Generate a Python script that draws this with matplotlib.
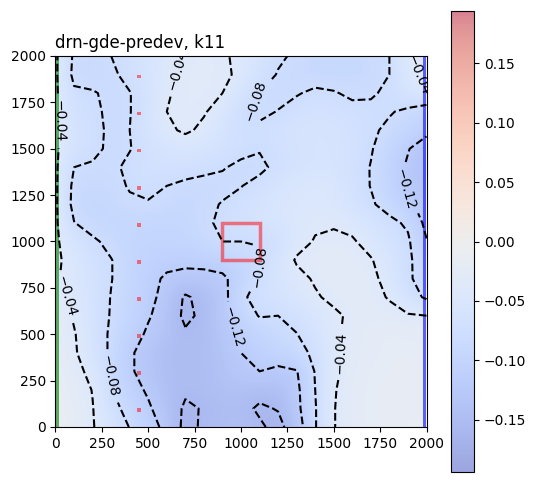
import numpy as np
import matplotlib
matplotlib.use("Agg")
import matplotlib.pyplot as plt
from matplotlib.patches import Rectangle

# grid coordinates (m)
x_coords = np.arange(0, 2001, 100)
y_coords = np.arange(0, 2001, 100)

# head-change values, rows listed from y=2000 (top) down to y=0
head_rows = [
    [-0.035,-0.085,-0.09,-0.08,-0.07,-0.06,-0.05,-0.038,-0.034,-0.037,-0.045,-0.06,-0.075,-0.085,-0.09,-0.092,-0.09,-0.088,-0.08,-0.045,-0.03],
    [-0.035,-0.088,-0.09,-0.085,-0.072,-0.06,-0.045,-0.035,-0.032,-0.035,-0.045,-0.065,-0.082,-0.088,-0.092,-0.094,-0.092,-0.09,-0.08,-0.05,-0.03],
    [-0.035,-0.075,-0.078,-0.085,-0.081,-0.065,-0.042,-0.034,-0.033,-0.04,-0.06,-0.08,-0.088,-0.082,-0.075,-0.078,-0.085,-0.083,-0.075,-0.06,-0.045],
    [-0.035,-0.07,-0.075,-0.085,-0.081,-0.065,-0.04,-0.033,-0.038,-0.05,-0.075,-0.086,-0.079,-0.07,-0.065,-0.066,-0.072,-0.074,-0.078,-0.085,-0.1],
    [-0.035,-0.065,-0.072,-0.085,-0.08,-0.06,-0.045,-0.036,-0.045,-0.06,-0.075,-0.074,-0.068,-0.062,-0.06,-0.062,-0.068,-0.076,-0.085,-0.095,-0.11],
    [-0.035,-0.065,-0.07,-0.088,-0.081,-0.07,-0.06,-0.055,-0.058,-0.065,-0.072,-0.078,-0.07,-0.064,-0.06,-0.06,-0.065,-0.078,-0.095,-0.118,-0.14],
    [-0.035,-0.08,-0.085,-0.085,-0.075,-0.068,-0.066,-0.068,-0.072,-0.078,-0.086,-0.087,-0.072,-0.065,-0.06,-0.06,-0.068,-0.081,-0.1,-0.125,-0.145],
    [-0.035,-0.088,-0.09,-0.088,-0.078,-0.074,-0.08,-0.086,-0.09,-0.088,-0.081,-0.07,-0.06,-0.052,-0.048,-0.052,-0.065,-0.081,-0.1,-0.125,-0.14],
    [-0.035,-0.09,-0.095,-0.092,-0.084,-0.082,-0.088,-0.092,-0.088,-0.078,-0.07,-0.062,-0.055,-0.05,-0.048,-0.05,-0.062,-0.076,-0.092,-0.115,-0.13],
    [-0.035,-0.079,-0.092,-0.095,-0.095,-0.095,-0.097,-0.095,-0.085,-0.075,-0.068,-0.062,-0.055,-0.048,-0.044,-0.043,-0.048,-0.06,-0.072,-0.085,-0.13],
    [-0.035,-0.06,-0.075,-0.088,-0.097,-0.1,-0.1,-0.098,-0.09,-0.08,-0.08,-0.079,-0.074,-0.05,-0.038,-0.034,-0.037,-0.05,-0.065,-0.075,-0.118],
    [-0.035,-0.05,-0.068,-0.079,-0.095,-0.105,-0.11,-0.112,-0.11,-0.105,-0.095,-0.083,-0.06,-0.037,-0.03,-0.028,-0.03,-0.038,-0.055,-0.074,-0.1],
    [-0.037,-0.05,-0.065,-0.079,-0.095,-0.11,-0.125,-0.13,-0.13,-0.126,-0.105,-0.075,-0.06,-0.048,-0.037,-0.03,-0.028,-0.033,-0.05,-0.075,-0.095],
    [-0.03,-0.048,-0.063,-0.081,-0.095,-0.112,-0.13,-0.165,-0.148,-0.135,-0.085,-0.07,-0.062,-0.053,-0.043,-0.034,-0.028,-0.032,-0.042,-0.065,-0.085],
    [-0.022,-0.043,-0.062,-0.082,-0.097,-0.117,-0.135,-0.168,-0.152,-0.128,-0.1,-0.078,-0.08,-0.068,-0.055,-0.045,-0.035,-0.03,-0.032,-0.037,-0.04],
    [-0.02,-0.038,-0.06,-0.085,-0.105,-0.125,-0.14,-0.155,-0.15,-0.135,-0.115,-0.1,-0.09,-0.081,-0.062,-0.045,-0.032,-0.025,-0.022,-0.022,-0.025],
    [-0.018,-0.036,-0.06,-0.085,-0.115,-0.135,-0.148,-0.155,-0.15,-0.14,-0.12,-0.11,-0.1,-0.09,-0.074,-0.045,-0.032,-0.025,-0.02,-0.02,-0.022],
    [-0.015,-0.032,-0.047,-0.085,-0.115,-0.135,-0.148,-0.152,-0.15,-0.14,-0.13,-0.12,-0.128,-0.122,-0.078,-0.045,-0.03,-0.022,-0.02,-0.018,-0.02],
    [-0.012,-0.025,-0.041,-0.078,-0.105,-0.125,-0.145,-0.155,-0.15,-0.145,-0.142,-0.148,-0.145,-0.128,-0.08,-0.042,-0.028,-0.02,-0.018,-0.017,-0.02],
    [-0.01,-0.022,-0.039,-0.065,-0.095,-0.115,-0.14,-0.165,-0.158,-0.15,-0.15,-0.165,-0.158,-0.13,-0.082,-0.041,-0.028,-0.02,-0.018,-0.017,-0.018],
    [-0.01,-0.02,-0.038,-0.06,-0.081,-0.105,-0.13,-0.17,-0.155,-0.148,-0.145,-0.155,-0.17,-0.14,-0.082,-0.041,-0.028,-0.02,-0.018,-0.016,-0.016],
]
contour_levels = [-0.16, -0.12, -0.08, -0.04]

# approximate places where the contour labels sit
label_spots = [(640, 1930), (1075, 1760), (1935, 1880), (1880, 1280),
               (15, 1650), (45, 700), (280, 270), (945, 530),
               (1095, 870), (1540, 400)]

# boundary / feature locations
drain_x = [0, 20]          # left boundary column
chd_x = [1980, 2000]       # right boundary column
well_x = [450] * 10
well_y = [90, 290, 490, 690, 890, 1090, 1290, 1490, 1690, 1890]
box_x = [900, 1100]
box_y = [900, 1100]
title = "drn-gde-predev, k11"

Z = np.flipud(np.array(head_rows))

fig = plt.figure(figsize=(5.35, 4.82), dpi=100)
ax = fig.add_axes([55/535, 55/482, 372/535, 371/482])
cax = fig.add_axes([451/535, 10/482, 23/535, 461/482])

dx = (x_coords[1] - x_coords[0]) / 2
dy = (y_coords[1] - y_coords[0]) / 2
im = ax.imshow(Z, origin="lower", cmap="coolwarm", alpha=0.5,
               vmin=-0.194, vmax=0.194, interpolation="bicubic",
               extent=[x_coords[0]-dx, x_coords[-1]+dx, y_coords[0]-dy, y_coords[-1]+dy])
cs = ax.contour(x_coords, y_coords, Z, levels=contour_levels, colors="k", linewidths=1.5)
ax.clabel(cs, fontsize=10, manual=label_spots)

ax.add_patch(Rectangle((drain_x[0], y_coords[0]), drain_x[1]-drain_x[0], y_coords[-1]-y_coords[0],
                       facecolor="green", alpha=0.6, lw=0))
ax.add_patch(Rectangle((chd_x[0], y_coords[0]), chd_x[1]-chd_x[0], y_coords[-1]-y_coords[0],
                       facecolor="blue", alpha=0.6, lw=0))
for wx, wy in zip(well_x, well_y):
    ax.add_patch(Rectangle((wx-10, wy-10), 20, 20, facecolor="red", alpha=0.5, lw=0))
ax.add_patch(Rectangle((box_x[0], box_y[0]), box_x[1]-box_x[0], box_y[1]-box_y[0],
                       fill=False, edgecolor="red", alpha=0.5, lw=2.5))

ax.set_xlim(0, 2000)
ax.set_ylim(0, 2000)
ax.set_xticks(np.arange(0, 2001, 250))
ax.set_yticks(np.arange(0, 2001, 250))
ax.set_title(title, loc="left", fontsize=12)

fig.colorbar(im, cax=cax)
fig.savefig("out.png", dpi=100)
